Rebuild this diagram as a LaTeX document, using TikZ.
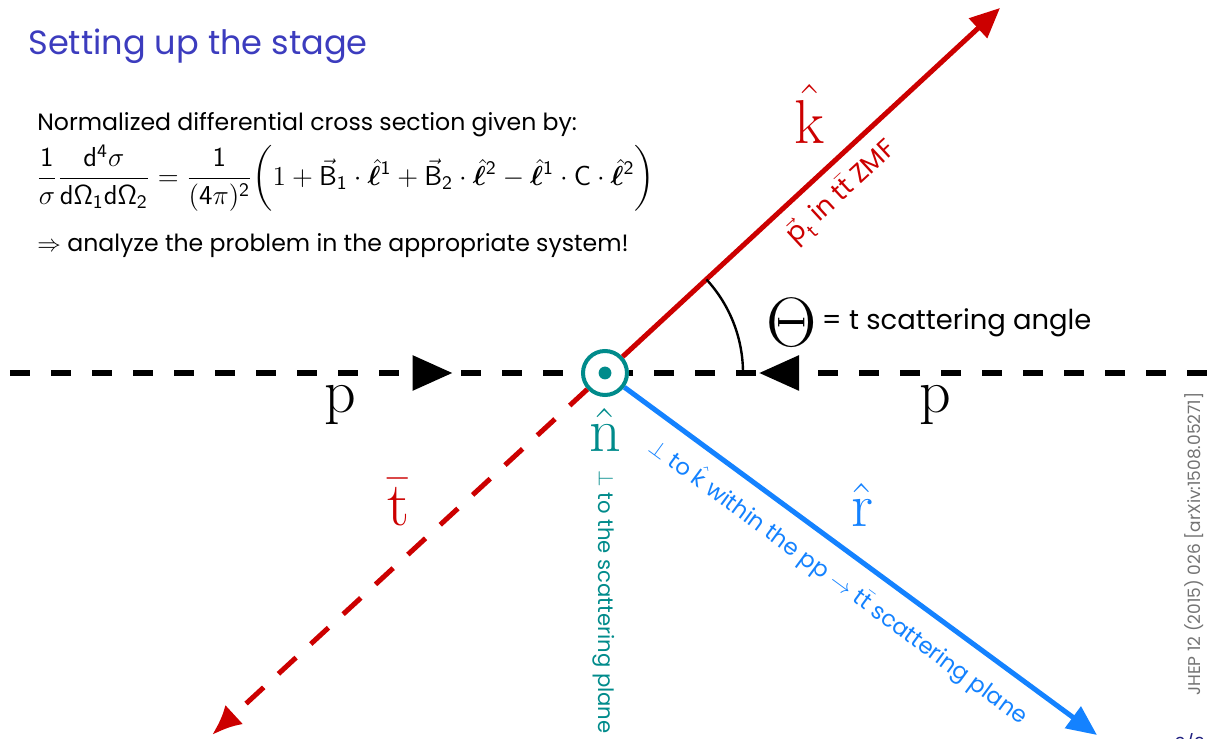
\RequirePackage{fix-cm}
\documentclass[tikz,border=0pt]{standalone}
\usepackage{amsmath,amssymb,bm}
\usepackage[no-math]{fontspec}
\setmainfont{Poppins}
\usepackage{tikz}
\usetikzlibrary{arrows.meta,positioning,calc,decorations.markings}
\definecolor{TopRed}{HTML}{CC0000}
\definecolor{PlaneBlue}{HTML}{1482FF}
\definecolor{NormTeal}{HTML}{008B8B}
\definecolor{TitleBlue}{HTML}{3C3CBE}
\definecolor{PageNavy}{HTML}{202080}

\begin{document}
\begin{tikzpicture}[x=0.5pt,y=0.5pt,
  big/.style={font=\fontsize{31}{36}\selectfont,inner sep=0pt},
  txt/.style={font=\fontsize{11.8}{14}\selectfont,anchor=base west,inner sep=0pt},
  lbl/.style={font=\fontsize{11}{13}\selectfont,inner sep=0pt},
  beam/.style={line width=3pt,dash pattern=on 10pt off 10.5pt,postaction={decorate},
    decoration={markings,mark=at position 0.775 with {\arrow{Triangle[length=20pt,width=17pt]}}}},
  kvec/.style={TopRed,line width=2.5pt,-{Triangle[length=15pt,width=13pt]}},
  tvec/.style={TopRed,line width=2.5pt,dash pattern=on 12pt off 10pt,-{Latex[length=15pt,width=13pt]}},
  rvec/.style={PlaneBlue,line width=2.5pt,-{Triangle[length=15pt,width=13pt]}}]
  \useasboundingbox (0,0) rectangle (1207,739);
  \node[txt,font=\fontsize{16.8}{20}\selectfont,TitleBlue] (title) at (28,684) {Setting up the stage};
  \node[txt] (intro) at (37,608) {Normalized differential cross section given by:};
  \node[anchor=west,inner sep=0pt,font=\fontsize{13.7}{16}\selectfont] (xsec) at (36,561)
    {$\displaystyle\frac{\mathsf 1}{\sigma}\frac{\mathsf d^{\mathsf 4}\sigma}{\mathsf{d\Omega}_{\mathsf 1}\mathsf{d\Omega}_{\mathsf 2}}
     =\frac{\mathsf 1}{(\mathsf 4\pi)^{\mathsf 2}}\biggl(1+\vec{\mathsf B}_{\mathsf 1}\cdot\hat{\bm\ell}^{\mathsf 1}
     +\vec{\mathsf B}_{\mathsf 2}\cdot\hat{\bm\ell}^{\mathsf 2}-\hat{\bm\ell}^{\mathsf 1}\cdot\mathsf C\cdot\hat{\bm\ell}^{\mathsf 2}\biggr)$};
  \node[txt] (hint) at (37,487) {$\Rightarrow$ analyze the problem in the appropriate system!};

  \node[circle,draw=NormTeal,line width=2pt,fill=white,minimum size=22pt,inner sep=0pt] (O) at (605,366) {};
  \fill[NormTeal] (O.center) circle (3.2pt);
  \coordinate (pL) at (10,366);
  \coordinate (pR) at (1207,366);
  \coordinate (ktip) at (1000,731);
  \coordinate (ttip) at (212,4);
  \coordinate (rtip) at (1097,4);

  \draw[beam] (pL) -- (O);
  \draw[beam] (pR) -- (O);
  \draw[kvec] (O) -- node[sloped,below=2pt,pos=0.53,TopRed,font=\fontsize{13}{15}\selectfont]
    {$\vec{\text{p}}_{\text{t}}$ in $\text{t}\bar{\text{t}}$ ZMF} (ktip);
  \draw[tvec] (O) -- (ttip);
  \draw[rvec] (O) -- node[sloped,below=6pt,pos=0.49,lbl,font=\fontsize{11.4}{13}\selectfont,PlaneBlue]
    {$\perp$ to $\hat{\text{k}}$ within the $\text{pp}\to\text{t}\bar{\text{t}}$ scattering plane} (rtip);
  \draw[line width=1.2pt] ([xshift=69pt]O.center) arc[start angle=0,end angle=42.7,radius=69pt];

  \node[big] (pa) at (340,334) {$\mathrm{p}$};
  \node[big] (pb) at (935,334) {$\mathrm{p}$};
  \node[big,TopRed] (k) at (810,625) {$\hat{\mathrm{k}}$};
  \node[big,TopRed] (tb) at (398,237) {$\bar{\mathrm{t}}$};
  \node[big,NormTeal] (n) at (605,309) {$\hat{\mathrm{n}}$};
  \node[big,PlaneBlue] (r) at (862,234) {$\hat{\mathrm{r}}$};
  \node[big,font=\fontsize{35}{40}\selectfont] (theta) at (792,416) {$\Theta$};
  \node[right=2pt of theta,inner sep=0pt,font=\fontsize{13.7}{16}\selectfont] (angle) {= t scattering angle};
  \node[lbl,font=\fontsize{10.6}{12}\selectfont,NormTeal,rotate=-90,anchor=west] (nperp) at (604,269) {$\perp$ to the scattering plane};
  \node[lbl,rotate=90,text=black!55,font=\fontsize{8.5}{10}\selectfont] (ref) at (1194,195)
    {JHEP 12 (2015) 026 [arXiv:1508.05271]};
  \node[anchor=north,inner sep=0pt,PageNavy,font=\fontsize{9}{11}\selectfont] (page) at (1190,6) {3/9};
\end{tikzpicture}
\end{document}
